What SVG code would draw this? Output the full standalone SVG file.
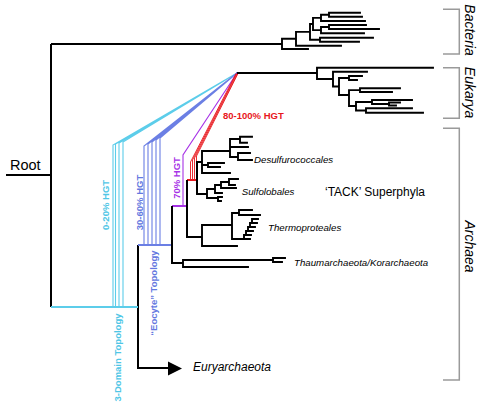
<svg xmlns="http://www.w3.org/2000/svg" width="484" height="413" viewBox="0 0 484 413">
<style>
.t{fill:none;stroke:#000;stroke-width:1.9;stroke-linecap:square}
.m{fill:none;stroke:#000;stroke-width:2}
.br{fill:none;stroke:#9a9a9a;stroke-width:1.5}
.cy{fill:none;stroke:#5ccdea;stroke-width:1.1}
.bl{fill:none;stroke:#6b7fe4;stroke-width:1.1}
.pu{fill:none;stroke:#a733e6;stroke-width:1.1}
.rd{fill:none;stroke:#e8161c;stroke-width:0.9}
.lab{font-family:"Liberation Sans",Arial,sans-serif}
.it{font-family:"Liberation Sans",Arial,sans-serif;font-style:italic;font-size:9.7px;fill:#000}
.dom{font-family:"Liberation Sans",Arial,sans-serif;font-style:italic;font-size:14px;fill:#000}
.hg{font-family:"Liberation Sans",Arial,sans-serif;font-weight:bold;font-size:9.5px}
</style>
<rect width="484" height="413" fill="#fff"/>

<g id="connectors">
  <!-- HGT fan lines -->
  <path class="cy" d="M113,307V145L237,73M115.5,307V144L237,73M119,307V143L237,73M123,307V142L237,73"/>
  <path class="bl" d="M144,245V146L237,73M148,245V144L237,73M152,245V142L237,73M156,245V140L237,73M160,245V138L237,73"/>
  <path class="pu" d="M183,206V155L237,73"/>
  <path class="rd" d="M190.5,180V162L236,73.5M192.5,180V160L236.7,73.5M194.5,180V158L237.4,73.5M196.5,180V156L238,73.5"/>
  <!-- main backbone -->
  <path class="m" d="M6,175H51M51,44V307M51,44H282M138,245V368H170"/>
  <polygon points="168,361.5 182,368.5 168,375.5" fill="#000"/>
  <path fill="none" stroke="#5ccdea" stroke-width="2" d="M51,307H138"/>
  <path fill="none" stroke="#6b7fe4" stroke-width="2" d="M138,245H172"/>
  <path fill="none" stroke="#a733e6" stroke-width="2" d="M172,206H187"/>
  <path fill="none" stroke="#e8161c" stroke-width="2" d="M187,180H197"/>
  <path class="m" d="M172,206V263H183M187,180V237H202M197,162V194"/>
  <path class="m" d="M237,73H317"/>
</g>

<g id="bacteria-tree">
  <path class="t" d="M282,38.8V49M282,49H308M282,38.8H296M296,31.85V45.7M296,45.7H341M296,31.85H310M310,24V39.7M310,39.7H320M320,37.7V41.7M320,37.7H373M320,41.7H359M310,24H313M313,17.85V30.15M313,17.85H321M321,14.7V21M321,21H365M321,14.7H329M329,12.7V16.7M329,12.7H360M329,16.7H362M313,30.15H321M321,27V33.3M321,33.3H364M321,27H329M329,25V29M329,25H366M329,29H379"/>
</g>

<g id="eukarya-tree">
  <path class="t" d="M317,67.7V79M317,67.7H433M317,79H333M333,71.7V86.5M333,71.7H367M333,86.5H339M339,78V95M339,78H349M349,76V80M349,76H362M349,80H357M339,95H349M349,90.15V106M349,90.15H360M360,88.3V92M360,88.3H400M360,92H392M349,106H356M356,102V110.5M356,102H372M372,100V104M372,100H412M372,104H389M389,102.5V105.5M389,102.5H400M389,105.5H396M356,110.5H366M366,108.3V112.7M366,108.3H412M366,112.7H423"/>
</g>

<g id="desulfurococcales-tree">
  <path class="t" d="M197,162H202M202,151V173M202,151H230M230,139V157M230,139H240M240,136.7V142.7M240,136.7H252M240,142.7H247M230,147H248M230,157H238M238,153V160M238,153H250M238,160H252M202,165H208M208,163V167M208,163H224M208,167H220M202,173H230"/>
</g>

<g id="sulfolobales-tree">
  <path class="t" d="M197,194H207M207,189V198M207,198H218M218,197V201M218,197H222M218,201H221M207,189H215M215,185V193M215,193H222M215,185H221M221,182V188M221,188H236M221,182H229M229,179V185M229,179H238M229,185H235"/>
</g>

<g id="thermoproteales-tree">
  <path class="t" d="M202,225V246M202,225H232M202,246H237M232,213V239M232,213H239M239,210V215M239,210H252M239,215H260M232,239H244M244,239H250M244,239V235H246V231H248V227H250V223H252V219H258M246,235H251M248,231H253M250,227H255M252,223H257"/>
</g>

<g id="thaum-tree">
  <path class="t" d="M183,260V267M183,260H273M273,258V262M273,258H285M273,262H282M183,267H248"/>
</g>

<g id="brackets">
  <path class="br" d="M443,9.3H459.3V54H443"/>
  <path class="br" d="M443,67.7H459.3V118.3H443"/>
  <path class="br" d="M443,128.3H459.3V380H443"/>
</g>

<g id="labels">
  <text class="lab" x="10" y="170" font-size="14.5">Root</text>
  <text class="dom" transform="translate(465,30) rotate(90)" text-anchor="middle">Bacteria</text>
  <text class="dom" transform="translate(465,92.5) rotate(90)" text-anchor="middle">Eukarya</text>
  <text class="dom" transform="translate(465,246.5) rotate(90)" text-anchor="middle">Archaea</text>
  <text class="hg" x="223" y="118.5" fill="#e8161c">80-100% HGT</text>
  <text class="hg" transform="translate(108.5,205) rotate(-90)" text-anchor="middle" fill="#4fc6e6">0-20% HGT</text>
  <text class="hg" transform="translate(142.5,202.5) rotate(-90)" text-anchor="middle" fill="#6478e0">30-60% HGT</text>
  <text class="hg" transform="translate(180,178) rotate(-90)" text-anchor="middle" fill="#a733e6">70% HGT</text>
  <text class="hg" transform="translate(121,357.5) rotate(-90)" text-anchor="middle" fill="#4fc6e6">3-Domain Topology</text>
  <text class="hg" transform="translate(156.5,293) rotate(-90)" text-anchor="middle" fill="#6478e0">“Eocyte” Topology</text>
  <text class="it" x="254" y="162.5">Desulfurococcales</text>
  <text class="it" x="241.7" y="195">Sulfolobales</text>
  <text class="lab" x="325" y="195.5" font-size="12">‘TACK’ Superphyla</text>
  <text class="it" x="268" y="231">Thermoproteales</text>
  <text class="it" x="294" y="266">Thaumarchaeota/Korarchaeota</text>
  <text class="lab" x="193" y="371" font-size="12" font-style="italic">Euryarchaeota</text>
</g>
</svg>
